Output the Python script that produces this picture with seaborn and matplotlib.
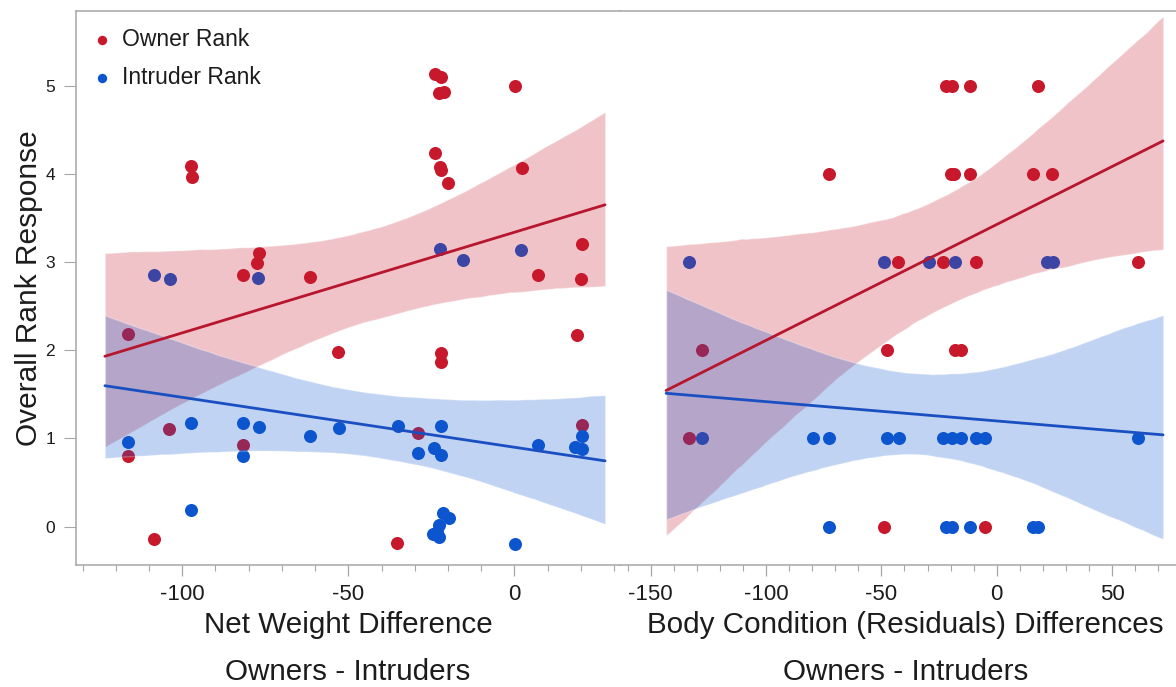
import matplotlib
matplotlib.use("Agg")
import numpy as np
import pandas as pd
import matplotlib.pyplot as plt
from matplotlib.ticker import MultipleLocator, FixedLocator
from matplotlib.collections import PolyCollection
import seaborn as sns

# ---- Net weight difference (owners - intruders), jittered rank responses ----
owner_weight_x = [-24.0, -22.2, -22.6, -21.2, 0.2, -23.9, -22.4, -22.2, -19.9, 2.2,
                  -97.3, -97.0, -77.0, -77.5, -81.7, -61.5, 7.1, 20.4, 20.2, -116.4,
                  -53.1, -22.0, -22.0, 18.8, -104.0, -81.7, -116.4, -28.9, 20.3,
                  -108.6, -35.2]
owner_weight_rank = [5.13, 5.10, 4.91, 4.93, 4.99, 4.24, 4.08, 4.04, 3.90, 4.07,
                     4.09, 3.96, 3.10, 2.99, 2.85, 2.83, 2.85, 3.20, 2.81, 2.18,
                     1.98, 1.97, 1.87, 2.17, 1.11, 0.93, 0.80, 1.06, 1.15,
                     -0.14, -0.18]
intruder_weight_x = [-108.6, -103.8, -77.1, -22.3, -15.6, 2.1, -116.4, -97.3, -81.7,
                     -76.8, -61.5, -52.9, -35.0, -22.0, -81.7, -28.9, -24.2, -22.2,
                     7.0, 20.3, 18.3, 20.5, -97.3, -21.4, -19.6, -22.6, -23.4, -24.4,
                     -22.6, 0.2]
intruder_weight_rank = [2.85, 2.81, 2.82, 3.15, 3.02, 3.14, 0.96, 1.18, 1.18,
                        1.13, 1.03, 1.12, 1.14, 1.14, 0.80, 0.84, 0.89, 0.81,
                        0.93, 1.03, 0.90, 0.88, 0.19, 0.15, 0.10, 0.02, -0.06, -0.08,
                        -0.12, -0.20]

# ---- Body condition (residuals) differences ----
owner_cond_x = [-22.2, -19.5, -11.4, 17.8,
                -72.9, -20.0, -18.5, -11.4, 15.8, 23.9,
                -42.6, -23.1, -9.1, 61.4,
                -127.6, -47.7, -18.0, -15.4,
                -133.6,
                -48.8, -4.9]
owner_cond_rank = [5, 5, 5, 5,
                   4, 4, 4, 4, 4, 4,
                   3, 3, 3, 3,
                   2, 2, 2, 2,
                   1,
                   0, 0]
intruder_cond_x = [-133.6, -48.8, -29.3, -18.0, 21.9, 24.2,
                   -127.6, -79.5, -72.9, -47.7, -42.3, -23.1, -19.5, -15.4, -9.1,
                   -4.9, 61.4,
                   -72.9, -21.9, -19.5, -11.4, 15.8, 18.1]
intruder_cond_rank = [3, 3, 3, 3, 3, 3,
                      1, 1, 1, 1, 1, 1, 1, 1, 1,
                      1, 1,
                      0, 0, 0, 0, 0, 0]

series_labels = ["Owner Rank", "Intruder Rank"]
x_titles = ["Net Weight Difference", "Body Condition (Residuals) Differences"]
x_subtitle = "Owners - Intruders"
y_title = "Overall Rank Response"
y_ticks = [0, 1, 2, 3, 4, 5]

RED, BLUE = "#c8182c", "#0c55cf"
RED_LINE, BLUE_LINE = "#b8162e", "#1a4fc2"
SPINE = "#a6a6a6"
TEXT = "#1c1c1c"

sns.set_style("white")
plt.rcParams["font.family"] = ["Liberation Sans", "DejaVu Sans"]
plt.rcParams["axes.unicode_minus"] = False

fig = plt.figure(figsize=(11.76, 6.87), dpi=100)
ax_l = fig.add_axes([76 / 1176, 1 - 565 / 687, 544 / 1176, 554.5 / 687])
ax_r = fig.add_axes([620 / 1176, 1 - 565 / 687, 556 / 1176, 554.5 / 687])

panels = [
    (ax_l, owner_weight_x, owner_weight_rank, intruder_weight_x, intruder_weight_rank,
     (-123.3, 27.3), (-132.0, 31.8), [-100, -50, 0], 0.5),
    (ax_r, owner_cond_x, owner_cond_rank, intruder_cond_x, intruder_cond_rank,
     (-143.3, 72.1), (-163.3, 77.7), [-150, -100, -50, 0, 50], 0.513),
]

for i, (ax, ox, oy, ix, iy, fit_range, xlim, majors, label_x) in enumerate(panels):
    df_o = pd.DataFrame({"diff": ox, "rank": oy})
    df_i = pd.DataFrame({"diff": ix, "rank": iy})
    # fitted lines span the fit range; the axis is widened afterwards
    ax.set_xlim(*fit_range)
    ax.set_ylim(-0.434, 5.85)
    for df, col, lcol, lab in [(df_o, RED, RED_LINE, series_labels[0]),
                               (df_i, BLUE, BLUE_LINE, series_labels[1])]:
        n_before = len(ax.collections)
        sns.regplot(data=df, x="diff", y="rank", ax=ax, truncate=False, ci=95,
                    n_boot=8000, seed=3, label=lab,
                    scatter_kws=dict(s=88, color=col, linewidths=0, alpha=1, zorder=1),
                    line_kws=dict(color=lcol, lw=2.0, zorder=4))
        for c in ax.collections[n_before:]:
            if isinstance(c, PolyCollection):
                c.set_facecolor(col)
                c.set_alpha(0.26)
                c.set_zorder(2)
    ax.set_xlim(*xlim)
    ax.xaxis.set_major_locator(FixedLocator(majors))
    ax.xaxis.set_minor_locator(MultipleLocator(10))
    ax.tick_params(axis="x", which="major", length=8, width=0.9, color=SPINE,
                   labelsize=16, labelcolor=TEXT, pad=6, direction="out", bottom=True)
    ax.tick_params(axis="x", which="minor", length=4.5, width=0.8, color=SPINE,
                   direction="out", bottom=True)
    ax.set_xlabel(x_titles[i] + "\n" + x_subtitle, fontsize=21.3, color=TEXT,
                  linespacing=1.85, labelpad=4, x=label_x)
    ax.set_ylabel("")
    for side in ["top", "bottom", "left", "right"]:
        ax.spines[side].set_color(SPINE)
        ax.spines[side].set_linewidth(1.1)
    ax.spines["right"].set_visible(False)
    if i == 1:
        ax.spines["left"].set_visible(False)
        ax.tick_params(axis="y", left=False, labelleft=False)

ax_l.yaxis.set_major_locator(FixedLocator(y_ticks))
ax_l.tick_params(axis="y", which="major", length=9, width=0.8, color=SPINE,
                 labelsize=12.5, labelcolor=TEXT, pad=6, direction="out", left=True)
ax_l.set_ylabel(y_title, fontsize=21.5, color=TEXT, labelpad=1.5)

handles, labels = ax_l.get_legend_handles_labels()
leg = ax_l.legend(handles, labels, loc="upper left", bbox_to_anchor=(0.0, 1.0),
                  frameon=False, fontsize=16.5, markerscale=0.72, handletextpad=0.45,
                  labelspacing=0.69, borderaxespad=0.55, borderpad=0.2,
                  handlelength=0.8)
for t in leg.get_texts():
    t.set_color(TEXT)

fig.savefig("out.png", dpi=100)
